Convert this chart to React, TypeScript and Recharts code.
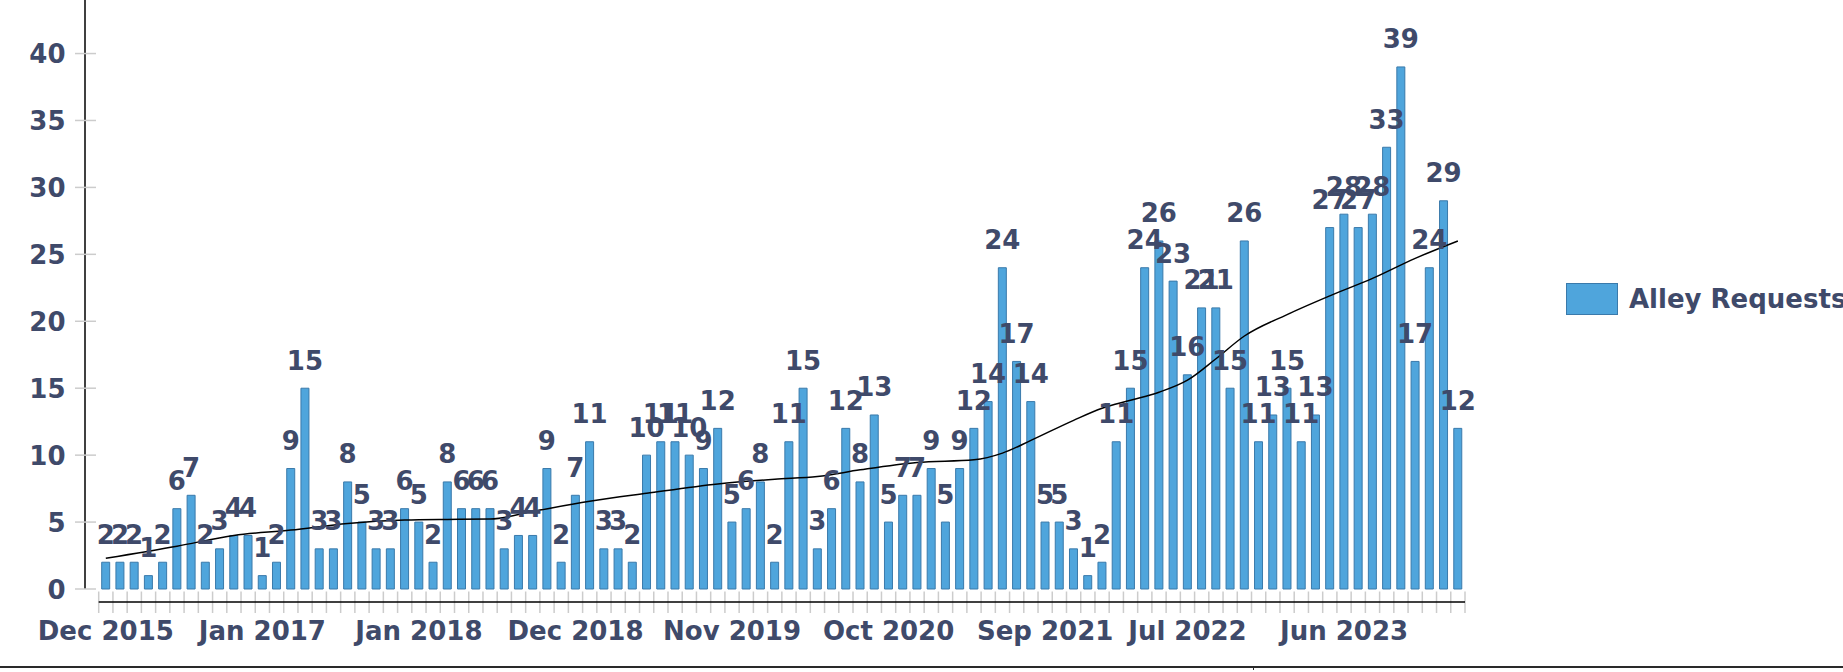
import React from 'react';
import { ComposedChart, Bar, Line, XAxis, YAxis, Legend, LabelList } from 'recharts';

// monthly categories (a few early months are absent from the source data)
const MONTHS = [
  'Dec 2015', 'Jan 2016', 'Feb 2016', 'Mar 2016', 'Apr 2016', 'May 2016', 'Jun 2016', 'Jul 2016', 'Aug 2016', 'Sep 2016', 'Oct 2016',
  'Jan 2017', 'Feb 2017', 'Mar 2017', 'Apr 2017', 'May 2017', 'Jun 2017', 'Jul 2017', 'Aug 2017', 'Sep 2017', 'Oct 2017', 'Nov 2017',
  'Jan 2018', 'Feb 2018', 'Mar 2018', 'Apr 2018', 'May 2018', 'Jun 2018', 'Jul 2018', 'Aug 2018', 'Sep 2018', 'Oct 2018', 'Nov 2018',
  'Dec 2018', 'Jan 2019', 'Feb 2019', 'Mar 2019', 'Apr 2019', 'May 2019', 'Jun 2019', 'Jul 2019', 'Aug 2019', 'Sep 2019', 'Oct 2019',
  'Nov 2019', 'Dec 2019', 'Jan 2020', 'Feb 2020', 'Mar 2020', 'Apr 2020', 'May 2020', 'Jun 2020', 'Jul 2020', 'Aug 2020', 'Sep 2020',
  'Oct 2020', 'Nov 2020', 'Dec 2020', 'Jan 2021', 'Feb 2021', 'Mar 2021', 'Apr 2021', 'May 2021', 'Jun 2021', 'Jul 2021', 'Aug 2021',
  'Sep 2021', 'Oct 2021', 'Nov 2021', 'Dec 2021', 'Jan 2022', 'Feb 2022', 'Mar 2022', 'Apr 2022', 'May 2022', 'Jun 2022',
  'Jul 2022', 'Aug 2022', 'Sep 2022', 'Oct 2022', 'Nov 2022', 'Dec 2022', 'Jan 2023', 'Feb 2023', 'Mar 2023', 'Apr 2023', 'May 2023',
  'Jun 2023', 'Jul 2023', 'Aug 2023', 'Sep 2023', 'Oct 2023', 'Nov 2023', 'Dec 2023', 'Jan 2024', 'Feb 2024',
];

const REQUESTS = [
  2, 2, 2, 1, 2, 6, 7, 2, 3, 4, 4,
  1, 2, 9, 15, 3, 3, 8, 5, 3, 3, 6,
  5, 2, 8, 6, 6, 6, 3, 4, 4, 9, 2,
  7, 11, 3, 3, 2, 10, 11, 11, 10, 9, 12,
  5, 6, 8, 2, 11, 15, 3, 6, 12, 8, 13,
  5, 7, 7, 9, 5, 9, 12, 14, 24, 17, 14,
  5, 5, 3, 1, 2, 11, 15, 24, 26, 23,
  16, 21, 21, 15, 26, 11, 13, 15, 11, 13, 27,
  28, 27, 28, 33, 39, 17, 24, 29, 12,
];

// trend line at a handful of months
const TREND_MONTHS = [
  'Dec 2015', 'May 2016', 'Sep 2016', 'Mar 2017', 'Jul 2017', 'Nov 2017', 'Mar 2018', 'Jun 2018', 'Sep 2018',
  'Jan 2019', 'May 2019', 'Oct 2019', 'Feb 2020', 'May 2020', 'Aug 2020', 'Dec 2020', 'Apr 2021', 'Jun 2021',
  'Aug 2021', 'Nov 2021', 'Jan 2022', 'Mar 2022', 'May 2022', 'Jul 2022', 'Sep 2022', 'Nov 2022', 'Feb 2023',
  'May 2023', 'Aug 2023', 'Nov 2023', 'Feb 2024',
];
const TREND_VALUES = [
  2.3, 3.2, 4.0, 4.4, 4.9, 5.15, 5.2, 5.22, 5.8,
  6.55, 7.15, 7.85, 8.2, 8.4, 8.9, 9.45, 9.65, 10.15,
  11.1, 12.6, 13.5, 14.1, 14.7, 15.6, 17.2, 18.9, 20.5,
  21.9, 23.2, 24.7, 26.0,
];

const X_LABELS = ['Dec 2015', 'Jan 2017', 'Jan 2018', 'Dec 2018', 'Nov 2019', 'Oct 2020', 'Sep 2021', 'Jul 2022', 'Jun 2023'];
const Y_TICKS = [0, 5, 10, 15, 20, 25, 30, 35, 40];

const INK = '#3f4a6a';
const FONT = '"DejaVu Sans", sans-serif';
const FONT_SIZE = 26;
const BAR_FILL = '#4fa5dc';
const BAR_STROKE = '#3a7aab';
const GRID_GREY = '#cccccc';

const W = 1843;
const H = 672;
const MARGIN = { top: 0, right: 378, bottom: 0, left: 0 };
const Y_AXIS_W = 85;
const PAD_LEFT = 13.7;
const BAND = (W - MARGIN.right - Y_AXIS_W - PAD_LEFT) / MONTHS.length;

const data = MONTHS.map((month, i) => {
  const t = TREND_MONTHS.indexOf(month);
  return { month, requests: REQUESTS[i], trend: t >= 0 ? TREND_VALUES[t] : null };
});

function XTick(props: any) {
  const { x, y, payload } = props;
  const idx = MONTHS.indexOf(payload.value);
  const left = x - BAND / 2;
  const last = idx === MONTHS.length - 1;
  return (
    <g>
      <line x1={left} x2={left} y1={y + 2.5} y2={y + 24} stroke={GRID_GREY} strokeWidth={1.5} />
      {last && <line x1={x + BAND / 2} x2={x + BAND / 2} y1={y + 2.5} y2={y + 24} stroke={GRID_GREY} strokeWidth={1.5} />}
      {last && (
        <line
          x1={x + BAND / 2 - BAND * MONTHS.length}
          x2={x + BAND / 2}
          y1={y + 13}
          y2={y + 13}
          stroke="#000"
          strokeWidth={1.5}
        />
      )}
      {X_LABELS.includes(payload.value) && (
        <text x={x} y={y + 51} textAnchor="middle" fill={INK} fontFamily={FONT} fontWeight="bold" fontSize={FONT_SIZE}>
          {payload.value}
        </text>
      )}
    </g>
  );
}

function YTick(props: any) {
  const { x, y, payload } = props;
  return (
    <g>
      <line x1={x - 10} x2={x + 11} y1={y} y2={y} stroke={GRID_GREY} strokeWidth={1.5} />
      <text x={x - 19.5} y={y + 9.5} textAnchor="end" fill={INK} fontFamily={FONT} fontWeight="bold" fontSize={FONT_SIZE}>
        {payload.value}
      </text>
    </g>
  );
}

function ValueLabel(props: any) {
  const box = props.viewBox ?? props;
  return (
    <text
      x={box.x + box.width / 2}
      y={box.y - 18.5}
      textAnchor="middle"
      fill={INK}
      fontFamily={FONT}
      fontWeight="bold"
      fontSize={FONT_SIZE}
    >
      {props.value}
    </text>
  );
}

function LegendBox() {
  return (
    <div style={{ display: 'flex', alignItems: 'center', fontFamily: FONT }}>
      <div style={{ width: 50, height: 30, background: BAR_FILL, border: `1px solid ${BAR_STROKE}` }} />
      <span style={{ marginLeft: 11, fontSize: FONT_SIZE, fontWeight: 'bold', color: INK, whiteSpace: 'nowrap' }}>
        Alley Requests
      </span>
    </div>
  );
}

export default function App() {
  return (
    <div style={{ position: 'relative', width: W, height: H, background: '#fff', overflow: 'hidden' }}>
      <style>{'body{margin:0}'}</style>
      <ComposedChart width={W} height={H} data={data} margin={MARGIN}>
        <XAxis
          dataKey="month"
          type="category"
          interval={0}
          height={H - 589}
          padding={{ left: PAD_LEFT, right: 0 }}
          axisLine={false}
          tickLine={false}
          tickSize={0}
          tickMargin={0}
          tick={<XTick />}
        />
        <YAxis
          type="number"
          width={Y_AXIS_W}
          domain={[0, 44]}
          ticks={Y_TICKS}
          axisLine={{ stroke: '#000', strokeWidth: 1.5 }}
          tickLine={false}
          tickSize={0}
          tickMargin={0}
          tick={<YTick />}
        />
        <Legend
          layout="vertical"
          align="center"
          verticalAlign="middle"
          wrapperStyle={{ left: 1566, top: 283 }}
          content={() => <LegendBox />}
        />
        <Bar
          dataKey="requests"
          name="Alley Requests"
          barSize={8}
          fill={BAR_FILL}
          stroke={BAR_STROKE}
          strokeWidth={1}
          isAnimationActive={false}
        >
          <LabelList dataKey="requests" content={<ValueLabel />} />
        </Bar>
        <Line
          dataKey="trend"
          type="monotone"
          stroke="#000"
          strokeWidth={1.5}
          dot={false}
          connectNulls
          legendType="none"
          isAnimationActive={false}
        />
      </ComposedChart>
      <div style={{ position: 'absolute', left: 0, top: 665.5, width: W, height: 2, background: '#2a2a2a' }} />
      <div style={{ position: 'absolute', left: 1253, top: 667, width: 1, height: 3, background: '#2a2a2a' }} />
    </div>
  );
}
